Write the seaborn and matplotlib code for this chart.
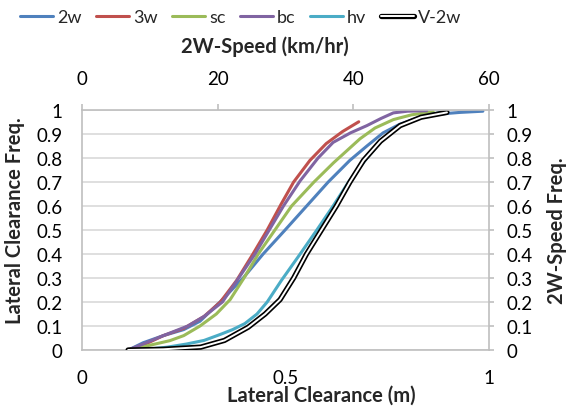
import matplotlib
matplotlib.use("Agg")
import matplotlib.pyplot as plt
import matplotlib.patheffects as pe
from matplotlib.lines import Line2D
import seaborn as sns
import pandas as pd

# ---- data ----
lc_2w_x = [0.114, 0.15, 0.20, 0.25, 0.29, 0.339, 0.396, 0.445, 0.499, 0.552, 0.605, 0.658,
           0.70, 0.74, 0.78, 0.822, 0.87, 0.929, 0.985]
lc_2w_y = [0.0, 0.03, 0.06, 0.085, 0.12, 0.20, 0.30, 0.40, 0.50, 0.60, 0.70, 0.79,
           0.85, 0.905, 0.94, 0.965, 0.982, 0.99, 0.995]

lc_3w_x = [0.114, 0.15, 0.20, 0.25, 0.30, 0.34, 0.38, 0.42, 0.455, 0.49, 0.52, 0.56, 0.60, 0.64, 0.68]
lc_3w_y = [0.0, 0.02, 0.06, 0.09, 0.14, 0.20, 0.29, 0.40, 0.50, 0.61, 0.70, 0.79, 0.86, 0.91, 0.951]

lc_sc_x = [0.114, 0.143, 0.18, 0.216, 0.25, 0.29, 0.33, 0.364, 0.398, 0.433, 0.474, 0.515,
           0.57, 0.618, 0.683, 0.72, 0.765, 0.81, 0.863]
lc_sc_y = [0.0, 0.011, 0.025, 0.039, 0.06, 0.10, 0.15, 0.21, 0.30, 0.40, 0.50, 0.60,
           0.70, 0.78, 0.88, 0.925, 0.96, 0.98, 0.993]

lc_bc_x = [0.114, 0.15, 0.20, 0.26, 0.30, 0.345, 0.385, 0.425, 0.46, 0.495, 0.536, 0.58,
           0.617, 0.66, 0.70, 0.735, 0.765, 0.80, 0.847]
lc_bc_y = [0.0, 0.025, 0.06, 0.10, 0.14, 0.20, 0.30, 0.40, 0.50, 0.60, 0.705, 0.80,
           0.865, 0.905, 0.935, 0.965, 0.988, 0.995, 0.997]

lc_hv_x = [0.114, 0.16, 0.21, 0.257, 0.30, 0.34, 0.37, 0.40, 0.43, 0.455, 0.49, 0.536,
           0.577, 0.617, 0.655, 0.70, 0.74, 0.782, 0.83, 0.88]
lc_hv_y = [0.0, 0.003, 0.012, 0.025, 0.04, 0.065, 0.085, 0.11, 0.15, 0.20, 0.29, 0.40,
           0.50, 0.60, 0.70, 0.80, 0.88, 0.935, 0.97, 0.99]

speed_v2w_x = [6.8, 12.0, 17.5, 21.0, 24.5, 27.0, 29.2, 31.2, 33.1, 35.3, 37.5, 39.5,
               41.5, 44.0, 46.9, 50.0, 53.8]
speed_v2w_y = [0.0, 0.003, 0.012, 0.04, 0.095, 0.15, 0.21, 0.30, 0.40, 0.50, 0.60, 0.70,
               0.79, 0.87, 0.935, 0.97, 0.99]

series_names = ["2w", "3w", "sc", "bc", "hv"]
series_x = [lc_2w_x, lc_3w_x, lc_sc_x, lc_bc_x, lc_hv_x]
series_y = [lc_2w_y, lc_3w_y, lc_sc_y, lc_bc_y, lc_hv_y]
colors = ["#4F81BD", "#C0504D", "#9BBB59", "#8064A2", "#4BACC6"]

bottom_ticks = [0, 0.5, 1]
bottom_ticklabels = ["0", "0.5", "1"]
top_ticks = [0, 20, 40, 60]
y_ticks = [0, 0.1, 0.2, 0.3, 0.4, 0.5, 0.6, 0.7, 0.8, 0.9, 1.0]
y_ticklabels = ["0", "0.1", "0.2", "0.3", "0.4", "0.5", "0.6", "0.7", "0.8", "0.9", "1"]

# ---- style ----
sns.set_style("white")
plt.rcParams["font.family"] = ["Lato", "DejaVu Sans"]

FS = 13.5
TFS = 14.5
GRAY = "#BFBFBF"

fig = plt.figure(figsize=(5.71, 4.10), dpi=100)
rect = [82 / 571, 59 / 410, (489 - 82) / 571, (351 - 111) / 410]
ax = fig.add_axes(rect)
ax2 = fig.add_axes(rect, frameon=True)
ax2.patch.set_alpha(0)

frames = []
for n, xs, ys in zip(series_names, series_x, series_y):
    frames.append(pd.DataFrame({"x": xs, "y": ys, "series": n}))
df = pd.concat(frames, ignore_index=True)

for n, c in zip(series_names, colors):
    sub = df[df["series"] == n]
    sns.lineplot(data=sub, x="x", y="y", ax=ax, color=c, lw=2.2, sort=False,
                 estimator=None, legend=False)

df_v = pd.DataFrame({"speed": speed_v2w_x, "freq": speed_v2w_y})
sns.lineplot(data=df_v, x="speed", y="freq", ax=ax2, color="black", lw=3.8,
             sort=False, estimator=None, legend=False)
sns.lineplot(data=df_v, x="speed", y="freq", ax=ax2, color="white", lw=1.4,
             sort=False, estimator=None, legend=False)

# main axes
ax.set_xlim(0, 1)
ax.set_ylim(0, 1)
ax.set_xticks(bottom_ticks)
ax.set_xticklabels(bottom_ticklabels)
ax.set_yticks(y_ticks)
ax.set_yticklabels(y_ticklabels)
ax.yaxis.grid(True, color="#D9D9D9", lw=1.2)
ax.xaxis.grid(False)
for s in ["top", "right"]:
    ax.spines[s].set_visible(False)
for s in ["left", "bottom"]:
    ax.spines[s].set_color(GRAY)
    ax.spines[s].set_linewidth(1.2)
ax.tick_params(axis="x", length=0, pad=14, labelsize=FS, colors="black")
ax.tick_params(axis="y", length=0, pad=14, labelsize=FS, colors="black")
ax.set_xlabel("Lateral Clearance (m)", fontsize=TFS, fontweight="bold")
ax.set_ylabel("Lateral Clearance Freq.", fontsize=TFS, fontweight="bold")
ax.xaxis.label.set_va("center")
ax.yaxis.label.set_va("center")
ax.yaxis.label.set_ha("center")
ax.xaxis.set_label_coords((321 - 82) / 407, (351 - 396) / 240)
ax.yaxis.set_label_coords((15 - 82) / 407, (351 - 221) / 240)

# secondary axes (top / right)
ax2.set_xlim(0, 60)
ax2.set_ylim(0, 1)
ax2.xaxis.tick_top()
ax2.xaxis.set_label_position("top")
ax2.yaxis.tick_right()
ax2.yaxis.set_label_position("right")
ax2.set_xticks(top_ticks)
ax2.set_xticklabels([str(t) for t in top_ticks])
ax2.set_yticks(y_ticks)
ax2.set_yticklabels(y_ticklabels)
ax2.grid(False)
for s in ["left", "bottom"]:
    ax2.spines[s].set_visible(False)
for s in ["top", "right"]:
    ax2.spines[s].set_color(GRAY)
    ax2.spines[s].set_linewidth(1.2)
ax2.tick_params(axis="x", direction="out", length=4.3, width=1.2, color=GRAY, pad=12,
                labelsize=FS, labelcolor="black")
ax2.tick_params(axis="y", direction="out", length=3.6, width=1.2, color=GRAY, pad=9,
                labelsize=FS, labelcolor="black")
ax2.set_xlabel("2W-Speed (km/hr)", fontsize=TFS, fontweight="bold")
ax2.set_ylabel("2W-Speed Freq.", fontsize=TFS, fontweight="bold")
ax2.xaxis.label.set_va("center")
ax2.yaxis.label.set_va("center")
ax2.yaxis.label.set_ha("center")
ax2.xaxis.set_label_coords((265 - 82) / 407, (351 - 47) / 240)
ax2.yaxis.set_label_coords((557 - 82) / 407, 0.5)

# legend
handles = [Line2D([0], [0], color=c, lw=2.2) for c in colors]
hv2 = Line2D([0], [0], color="white", lw=1.4,
             path_effects=[pe.Stroke(linewidth=3.8, foreground="black"), pe.Normal()])
handles.append(hv2)
labels = series_names + ["V-2w"]
fig.legend(handles, labels, loc="center left", bbox_to_anchor=(20 / 571, 1 - 18 / 410),
           ncol=6, frameon=False, fontsize=13, handlelength=1.85, handletextpad=0.2,
           columnspacing=0.8, borderaxespad=0, borderpad=0)

fig.savefig("out.png", dpi=100)
